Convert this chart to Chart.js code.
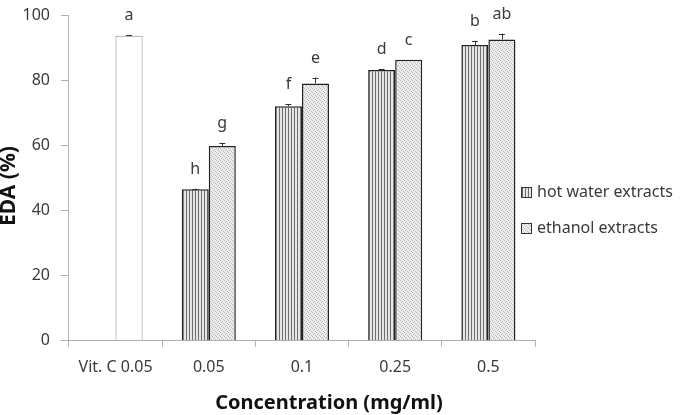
<!DOCTYPE html>
<html>
<head>
<meta charset="utf-8">
<script src="https://cdn.jsdelivr.net/npm/chart.js@4.4.1/dist/chart.umd.min.js"></script>
<style>
  html, body { margin: 0; padding: 0; background: #fff; }
</style>
</head>
<body>
<canvas id="chart" width="681" height="415"></canvas>
<script>
// values
const categories = ['Vit. C 0.05', '0.05', '0.1', '0.25', '0.5'];
const vitC = [93.6, null, null, null, null];
const hotWater = [null, 46.5, 72.0, 83.1, 90.8];
const ethanol = [null, 59.8, 79.0, 86.3, 92.5];
const vitCErr = [0.3, null, null, null, null];
const hotWaterErr = [null, 0.2, 0.6, 0.3, 1.3];
const ethanolErr = [null, 1.0, 1.8, 0.0, 1.8];
const vitCLetters = ['a', null, null, null, null];
const hotWaterLetters = [null, 'h', 'f', 'd', 'b'];
const ethanolLetters = [null, 'g', 'e', 'c', 'ab'];
const yTicks = [0, 20, 40, 60, 80, 100];

const FONT = "'Noto Sans', sans-serif";
const TEXT = '#3a3a3a';

function makePattern(draw, w, h) {
    const c = document.createElement('canvas');
    c.width = w; c.height = h;
    draw(c.getContext('2d'));
    return c.getContext('2d').createPattern(c, 'repeat');
}

// vertical stripes for hot water
const stripes = makePattern(g => {
    g.fillStyle = '#e6e6e6'; g.fillRect(0, 0, 3, 4);
    g.fillStyle = '#6e6e6e'; g.fillRect(0, 0, 1, 4);
}, 3, 4);

// fine stipple for ethanol
const dots = makePattern(g => {
    g.fillStyle = '#eeeeee'; g.fillRect(0, 0, 4, 4);
    g.fillStyle = '#b8b8b8';
    g.fillRect(0, 0, 1, 1); g.fillRect(2, 1, 1, 1);
    g.fillRect(1, 2, 1, 1); g.fillRect(3, 3, 1, 1);
}, 4, 4);

const errBars = [hotWaterErr, ethanolErr, vitCErr];
const letters = [hotWaterLetters, ethanolLetters, vitCLetters];

const extras = {
    id: 'extras',
    afterDatasetsDraw(chart) {
        const ctx = chart.ctx;
        const y = chart.scales.y;
        ctx.save();
        chart.data.datasets.forEach((ds, di) => {
            const meta = chart.getDatasetMeta(di);
            meta.data.forEach((bar, i) => {
                const v = ds.data[i];
                if (v == null) return;
                const err = errBars[di][i] || 0;
                const top = y.getPixelForValue(v + err);
                ctx.strokeStyle = '#333';
                ctx.lineWidth = 1;
                if (err > 0) {
                    ctx.beginPath();
                    ctx.moveTo(Math.round(bar.x) + 0.5, bar.y);
                    ctx.lineTo(Math.round(bar.x) + 0.5, top);
                    ctx.moveTo(bar.x - 3, Math.round(top) + 0.5);
                    ctx.lineTo(bar.x + 3, Math.round(top) + 0.5);
                    ctx.stroke();
                }
                const lab = letters[di][i];
                if (lab) {
                    ctx.fillStyle = TEXT;
                    ctx.font = '16px ' + FONT;
                    ctx.textAlign = 'center';
                    ctx.textBaseline = 'alphabetic';
                    ctx.fillText(lab, bar.x, top - 15);
                }
            });
        });
        ctx.restore();
    },
    afterDraw(chart) {
        const ctx = chart.ctx;
        ctx.save();
        // axis titles
        ctx.fillStyle = '#111';
        ctx.font = 'bold 20px ' + FONT;
        ctx.textAlign = 'center';
        ctx.textBaseline = 'middle';
        ctx.fillText('Concentration (mg/ml)', 329, 403);
        ctx.font = 'bold 21px ' + FONT;
        ctx.translate(9, 186);
        ctx.rotate(-Math.PI / 2);
        ctx.fillText('EDA (%)', 0, 0);
        ctx.restore();

        // legend
        ctx.save();
        const items = [[stripes, 'hot water extracts', 192], [dots, 'ethanol extracts', 228]];
        ctx.font = '16px ' + FONT;
        ctx.textBaseline = 'middle';
        items.forEach(([fill, text, cy]) => {
            ctx.fillStyle = fill;
            ctx.fillRect(521, cy - 5, 11, 11);
            ctx.strokeStyle = '#333';
            ctx.lineWidth = 1;
            ctx.strokeRect(521.5, cy - 4.5, 10, 10);
            ctx.fillStyle = TEXT;
            ctx.fillText(text, 537, cy);
        });
        ctx.restore();
    }
};

new Chart(document.getElementById('chart'), {
    type: 'bar',
    data: {
        labels: categories,
        datasets: [
            {
                label: 'hot water extracts',
                data: hotWater,
                stack: 'a',
                backgroundColor: stripes,
                borderColor: '#222',
                borderWidth: 1.5
            },
            {
                label: 'ethanol extracts',
                data: ethanol,
                stack: 'b',
                backgroundColor: dots,
                borderColor: '#222',
                borderWidth: 1.5
            },
            {
                label: 'Vit. C',
                data: vitC,
                stack: 'b',
                backgroundColor: '#ffffff',
                borderColor: '#8a8a8a',
                borderWidth: 1
            }
        ]
    },
    options: {
        responsive: false,
        animation: false,
        categoryPercentage: 0.58,
        barPercentage: 1.0,
        layout: { padding: { left: 11.5, right: 146, top: 15, bottom: 27 } },
        plugins: {
            legend: { display: false },
            tooltip: { enabled: false }
        },
        scales: {
            x: {
                grid: { display: true, drawOnChartArea: false, color: '#b0b0b0', tickLength: 6, offset: true },
                border: { color: '#b0b0b0' },
                ticks: { color: TEXT, font: { family: FONT, size: 16 }, padding: 11, maxRotation: 0 }
            },
            y: {
                min: 0,
                max: 100,
                afterBuildTicks: axis => { axis.ticks = yTicks.map(v => ({ value: v })); },
                afterFit: axis => { axis.paddingTop = 0; },
                grid: { display: true, drawOnChartArea: false, color: '#b0b0b0', tickLength: 8 },
                border: { color: '#b0b0b0' },
                ticks: { color: TEXT, font: { family: FONT, size: 16 }, padding: 11 }
            }
        }
    },
    plugins: [extras]
});
</script>
</body>
</html>
